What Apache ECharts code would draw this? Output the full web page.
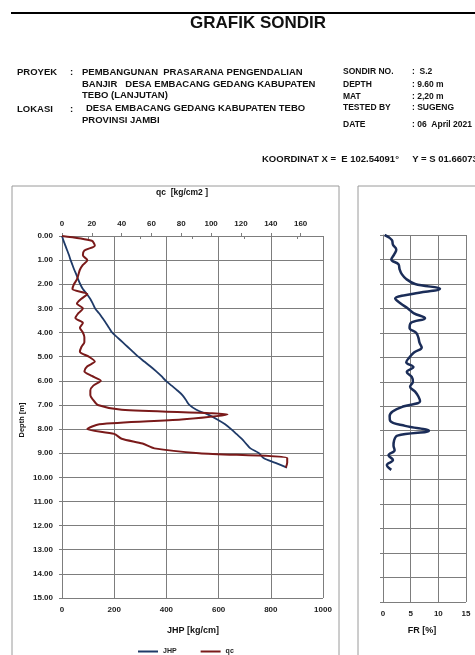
<!DOCTYPE html>
<html>
<head>
<meta charset="utf-8">
<script src="https://cdn.jsdelivr.net/npm/echarts@6/dist/echarts.min.js"></script>
<style>
html,body{margin:0;padding:0;background:#fff;}
#chart{width:475px;height:655px;}
</style>
</head>
<body>
<div id="chart"></div>
<script>
// ---- data (depth in m) ----
const depth = [0.0,0.2,0.4,0.6,0.8,1.0,1.2,1.4,1.6,1.8,2.0,2.2,2.4,2.6,2.8,3.0,3.2,3.4,3.6,3.8,4.0,4.2,4.4,4.6,4.8,5.0,5.2,5.4,5.6,5.8,6.0,6.2,6.4,6.6,6.8,7.0,7.2,7.4,7.6,7.8,8.0,8.2,8.4,8.6,8.8,9.0,9.2,9.4,9.6];
// JHP [kg/cm]
const jhp = [0,6,13,20,27,33,40,47,55,62,70,80,95,108,118,127,142,155,168,180,192,212,232,252,272,292,315,338,360,380,398,420,442,462,475,488,515,560,595,625,648,668,688,705,722,755,772,818,862];
// qc [kg/cm2]
const qc = [0,20,22,15,14,17,14,12,11,10,8,7,17,13,10,14,11,9,14,12,14,15,15,13,12,18,22,17,15,20,26,21,19,19,21,24,40,111,80,25,17,35,40,54,62,92,151,151,150];
// FR [%]
const fr = [0.3,1.6,1.8,2.4,2.0,1.5,2.8,3.0,3.4,4.2,5.8,10.3,5.5,2.2,3.2,4.5,5.6,7.6,5.0,4.8,6.0,6.4,6.6,7.0,5.6,4.8,4.2,5.5,4.3,5.2,5.4,4.9,5.8,6.4,6.7,3.8,1.8,1.2,1.3,4.0,8.3,2.6,2.0,1.9,2.1,1.0,1.8,0.7,1.5];

const seriesNames = ['JHP','qc','FR'];

const pair = (vals) => vals.map((v,i)=>[v, depth[i]]);

const chart = echarts.init(document.getElementById('chart'), null, {renderer:'canvas'});

const gridCol = '#7d7d7d';
const labFont = {fontFamily:'Liberation Sans', fontSize:8, fontWeight:'bold', color:'#222'};
const leftFont = 'bold 9.5px "Liberation Sans"';
const rightFont = 'bold 8.5px "Liberation Sans"';

function t(x, y, text, font, align){
  return {type:'text', x:x, y:y, silent:true,
    style:{text:text, font:font||leftFont, fill:'#111', align:align||'left', verticalAlign:'middle'}};
}

const graphics = [
  {type:'line', shape:{x1:11,y1:13,x2:475,y2:13}, style:{stroke:'#000', lineWidth:2}},
  t(258, 23, 'GRAFIK SONDIR', 'bold 17px "Liberation Sans"', 'center'),
  t(17, 72, 'PROYEK'), t(70, 72, ':'),
  t(82, 72, 'PEMBANGUNAN  PRASARANA PENGENDALIAN'),
  t(82, 84, 'BANJIR   DESA EMBACANG GEDANG KABUPATEN'),
  t(82, 95, 'TEBO (LANJUTAN)'),
  t(17, 109, 'LOKASI'), t(70, 109, ':'),
  t(86, 108, 'DESA EMBACANG GEDANG KABUPATEN TEBO'),
  t(82, 120, 'PROVINSI JAMBI'),
  t(343, 72, 'SONDIR NO.', rightFont), t(412, 72, ':  S.2', rightFont),
  t(343, 85, 'DEPTH', rightFont), t(412, 85, ': 9.60 m', rightFont),
  t(343, 97, 'MAT', rightFont), t(412, 97, ': 2,20 m', rightFont),
  t(343, 108, 'TESTED BY', rightFont), t(412, 108, ': SUGENG', rightFont),
  t(343, 125, 'DATE', rightFont), t(412, 125, ': 06  April 2021', rightFont),
  t(262, 159, 'KOORDINAT X =  E 102.54091°     Y = S 01.66073°'),
  {type:'rect', shape:{x:12,y:186,width:327,height:600}, style:{fill:'none', stroke:'#9a9a9a', lineWidth:1}},
  {type:'rect', shape:{x:358,y:186,width:300,height:600}, style:{fill:'none', stroke:'#9a9a9a', lineWidth:1}},
  t(182, 193, 'qc  [kg/cm2 ]', 'bold 8.5px "Liberation Sans"', 'center'),
  t(193, 631, 'JHP [kg/cm]', 'bold 9px "Liberation Sans"', 'center'),
  t(422, 631, 'FR [%]', 'bold 9px "Liberation Sans"', 'center'),
  {type:'text', x:22, y:420, rotation:Math.PI/2, silent:true,
    style:{text:'Depth [m]', font:'bold 7.5px "Liberation Sans"', fill:'#111', align:'center', verticalAlign:'middle'}}
];

const option = {
  animation:false,
  backgroundColor:'#fff',
  graphic: graphics,
  legend:{
    data:['JHP','qc'], left:133, top:643, icon:'rect', itemWidth:20, itemHeight:2, itemGap:24,
    textStyle:{fontFamily:'Liberation Sans', fontSize:7, fontWeight:'bold', color:'#222'}
  },
  grid:[
    {left:62, top:236, width:261, height:362},
    {left:383, top:235, width:83, height:367}
  ],
  xAxis:[
    {gridIndex:0, type:'value', position:'bottom', min:0, max:1000, interval:200,
     axisLine:{show:true, lineStyle:{color:gridCol}}, axisTick:{show:true, length:3, lineStyle:{color:gridCol}},
     minorTick:{show:true, splitNumber:2, length:3, lineStyle:{color:gridCol}},
     axisLabel:Object.assign({margin:8, formatter:(v)=>String(v)}, labFont),
     splitLine:{show:true, lineStyle:{color:gridCol, width:1}}},
    {gridIndex:0, type:'value', position:'top', min:0, max:175, interval:20,
     axisLine:{show:true, lineStyle:{color:gridCol}}, axisTick:{show:true, length:3, lineStyle:{color:gridCol}},
     axisLabel:Object.assign({margin:8, showMaxLabel:false, formatter:(v)=>String(v)}, labFont),
     splitLine:{show:false}},
    {gridIndex:1, type:'value', position:'bottom', min:0, max:15, interval:5,
     axisLine:{show:true, lineStyle:{color:gridCol}}, axisTick:{show:true, length:3, lineStyle:{color:gridCol}},
     axisLabel:Object.assign({margin:8}, labFont),
     splitLine:{show:true, lineStyle:{color:gridCol, width:1}}}
  ],
  yAxis:[
    {gridIndex:0, type:'value', inverse:true, min:0, max:15, interval:1,
     axisLine:{show:true, lineStyle:{color:gridCol}}, axisTick:{show:true, length:3, lineStyle:{color:gridCol}},
     axisLabel:Object.assign({margin:9, formatter:(v)=>v.toFixed(2)}, labFont),
     splitLine:{show:true, lineStyle:{color:gridCol, width:1}}},
    {gridIndex:1, type:'value', inverse:true, min:0, max:15, interval:1,
     axisLine:{show:true, lineStyle:{color:gridCol}}, axisTick:{show:true, length:3, lineStyle:{color:gridCol}},
     axisLabel:{show:false},
     splitLine:{show:true, lineStyle:{color:gridCol, width:1}}}
  ],
  series:[
    {name:seriesNames[0], type:'line', xAxisIndex:0, yAxisIndex:0, data:pair(jhp), symbol:'none', smooth:0.3,
     color:'#1f3a68', lineStyle:{color:'#1f3a68', width:1.8}, z:3},
    {name:seriesNames[1], type:'line', xAxisIndex:1, yAxisIndex:0, data:pair(qc), symbol:'none', smooth:0.25,
     color:'#7a1a1a', lineStyle:{color:'#7a1a1a', width:2}, z:4},
    {name:seriesNames[2], type:'line', xAxisIndex:2, yAxisIndex:1, data:pair(fr), symbol:'none', smooth:0.4,
     color:'#1b2d58', lineStyle:{color:'#1b2d58', width:2.5}, z:3}
  ]
};
chart.setOption(option);
</script>
</body>
</html>
